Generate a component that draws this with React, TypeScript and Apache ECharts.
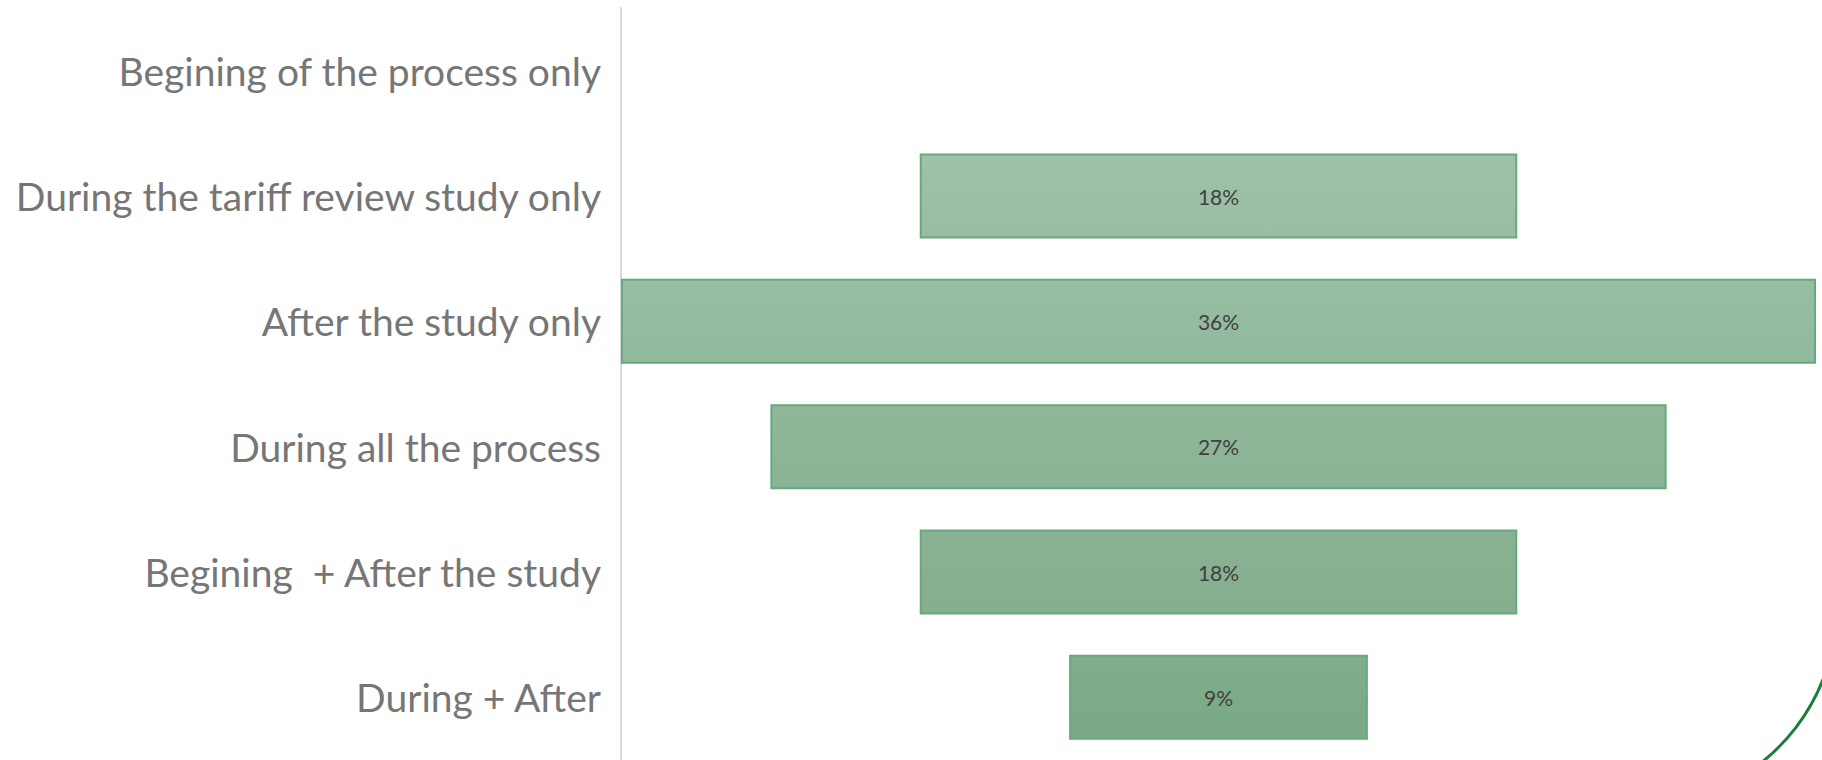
import React, { useEffect, useRef } from "react";
import * as echarts from "echarts";

const categories = [
  "Begining of the process only",
  "During the tariff review study only",
  "After the study only",
  "During all the process",
  "Begining  + After the study",
  "During + After",
];
const values = [0, 18, 36, 27, 18, 9];
const topColors = ["#9ec3a9", "#9dc2a8", "#97bda2", "#90b79a", "#89b293", "#80ad8b"];
const bottomColors = ["#9cc0a6", "#98bda3", "#92b99d", "#8bb395", "#84ae8e", "#7aa985"];

export default function App() {
  const ref = useRef<HTMLDivElement>(null);
  useEffect(() => {
    if (!ref.current) return;
    const chart = echarts.init(ref.current, undefined, { renderer: "svg" });
    const maxV = Math.max(...values);
    const offsets = values.map((v) => (maxV - v) / 2);
    chart.setOption({
      animation: false,
      backgroundColor: "#ffffff",
      grid: { left: 621, right: 6, top: 8, height: 757, containLabel: false },
      xAxis: { type: "value", min: 0, max: maxV, show: false },
      yAxis: {
        type: "category",
        data: categories,
        inverse: true,
        axisLine: { show: true, lineStyle: { color: "#d9d9d9", width: 2 } },
        axisTick: { show: false },
        splitLine: { show: false },
        axisLabel: {
          color: "#767676",
          fontSize: 39,
          fontFamily: "Lato",
          margin: 20,
        },
      },
      series: [
        {
          type: "bar",
          stack: "f",
          data: offsets,
          barWidth: 85,
          itemStyle: { color: "transparent" },
          silent: true,
        },
        {
          type: "bar",
          stack: "f",
          barWidth: 85,
          data: values.map((v, i) => ({
            value: v,
            itemStyle: {
              color: new echarts.graphic.LinearGradient(0, 0, 0, 1, [
                { offset: 0, color: topColors[i] },
                { offset: 1, color: bottomColors[i] },
              ]),
              borderColor: v === 0 ? "transparent" : "#66a97e",
              borderWidth: v === 0 ? 0 : 2,
            },
          })),
          label: {
            show: true,
            position: "inside",
            color: "#404040",
            fontSize: 21,
            fontFamily: "Lato",
            formatter: (p: any) => (p.value ? p.value + "%" : ""),
          },
        },
      ],
      graphic: [
        {
          type: "arc",
          silent: true,
          shape: { cx: 1637, cy: 606, r: 200, startAngle: 0.25, endAngle: 1.05, clockwise: true },
          style: { stroke: "#1e7d3e", lineWidth: 3, fill: "none" },
        },
      ],
    });
    return () => chart.dispose();
  }, []);
  return (
    <div
      ref={ref}
      style={{ position: "fixed", left: 0, top: 0, width: 1822, height: 760 }}
    />
  );
}
